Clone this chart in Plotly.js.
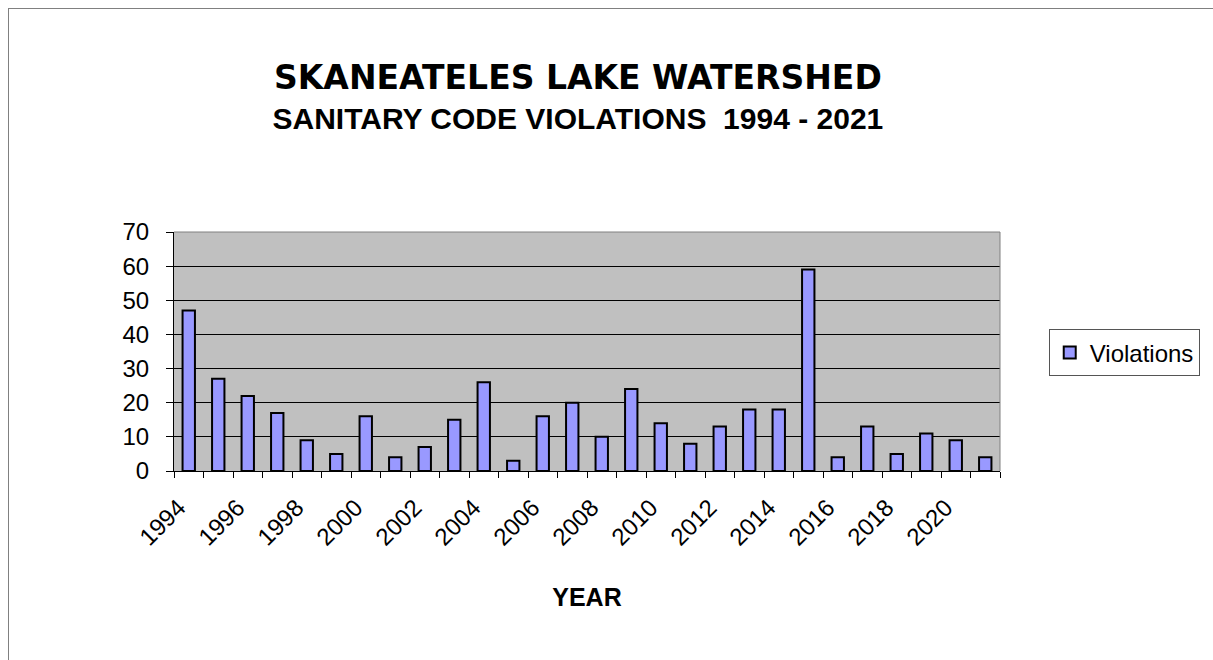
<!DOCTYPE html>
<html>
<head>
<meta charset="utf-8">
<script src="https://cdn.plot.ly/plotly-3.0.1.min.js"></script>
<style>
  html, body { margin: 0; padding: 0; background: #fff; }
  #wrap { position: relative; width: 1213px; height: 660px; overflow: hidden; }
  #chart { position: absolute; left: 0; top: 0; width: 1213px; height: 660px; }
  #frame { position: absolute; left: 8px; top: 8px; width: 1300px; height: 700px;
           border-left: 1px solid #808080; border-top: 1px solid #808080; pointer-events: none; }
</style>
</head>
<body>
<div id="wrap">
  <div id="chart"></div>
  <div id="frame"></div>
</div>
<script>
const years = [1994,1995,1996,1997,1998,1999,2000,2001,2002,2003,2004,2005,2006,2007,
               2008,2009,2010,2011,2012,2013,2014,2015,2016,2017,2018,2019,2020,2021];
const violations = [47,27,22,17,9,5,16,4,7,15,26,3,16,20,10,24,14,8,13,18,18,59,4,13,5,11,9,4];
const tickYears = [1994,1996,1998,2000,2002,2004,2006,2008,2010,2012,2014,2016,2018,2020];
const tickLabels = tickYears.map(String);
const boundaries = years.map(y => y - 0.5).concat([years[years.length-1] + 0.5]);

const trace = {
  type: 'bar',
  x: years,
  y: violations,
  name: 'Violations',
  width: 0.42,
  marker: { color: '#9999ff', line: { color: '#000000', width: 2 } },
  showlegend: true
};

const layout = {
  width: 1213, height: 660,
  margin: { l: 174, r: 213, t: 232, b: 189 },
  paper_bgcolor: '#ffffff',
  plot_bgcolor: '#c0c0c0',
  font: { family: 'Liberation Sans, Arial, sans-serif', color: '#000' },
  title: {
    text: '<span style="font-family:DejaVu Sans;font-size:33px;font-weight:bold">SKANEATELES LAKE WATERSHED</span><br>' +
          '<span style="font-family:Liberation Sans;font-size:30px;font-weight:bold">SANITARY CODE VIOLATIONS  1994 - 2021</span>',
    xref: 'paper', x: 0.489, xanchor: 'center',
    yref: 'container', y: 1 - 89/660, yanchor: 'top',
    font: { size: 31, color: '#000' }
  },
  xaxis: {
    range: [1993.5, 2021.5],
    tickmode: 'array',
    tickvals: tickYears,
    ticktext: tickLabels,
    tickangle: -45,
    ticks: '',
    ticklabelstandoff: 12,
    ticklabelshift: -10,
    tickfont: { size: 24, family: 'Liberation Sans, Arial, sans-serif' },
    showgrid: false,
    zeroline: false,
    showline: true, linecolor: '#000', linewidth: 1,
    minor: { tickmode: 'array', tickvals: boundaries, ticks: 'outside', ticklen: 6, tickcolor: '#000', showgrid: false },
    title: { text: '<b>YEAR</b>', font: { size: 25, family: 'Liberation Sans, Arial, sans-serif' }, standoff: 38 },
    fixedrange: true
  },
  yaxis: {
    range: [0, 70],
    dtick: 10,
    tick0: 0,
    ticks: 'outside', ticklen: 7, tickcolor: '#000',
    ticklabelstandoff: 12,
    tickfont: { size: 24, family: 'Liberation Sans, Arial, sans-serif' },
    showgrid: true, gridcolor: '#000', gridwidth: 1,
    zeroline: false,
    showline: true, linecolor: '#000', linewidth: 1,
    fixedrange: true
  },
  shapes: [
    { type: 'line', xref: 'paper', yref: 'paper', x0: 0, x1: 1, y0: 1, y1: 1, line: { color: '#808080', width: 1 } },
    { type: 'line', xref: 'paper', yref: 'paper', x0: 1, x1: 1, y0: 0, y1: 1, line: { color: '#808080', width: 1 } }
  ],
  legend: {
    x: 1.059, xanchor: 'left',
    y: 0.494, yanchor: 'middle',
    bgcolor: '#ffffff',
    bordercolor: '#555', borderwidth: 1,
    font: { size: 24, family: 'Liberation Sans, Arial, sans-serif' },
    itemwidth: 30
  },
  bargap: 0.5
};

Plotly.newPlot('chart', [trace], layout, { displayModeBar: false, staticPlot: true });
</script>
</body>
</html>
